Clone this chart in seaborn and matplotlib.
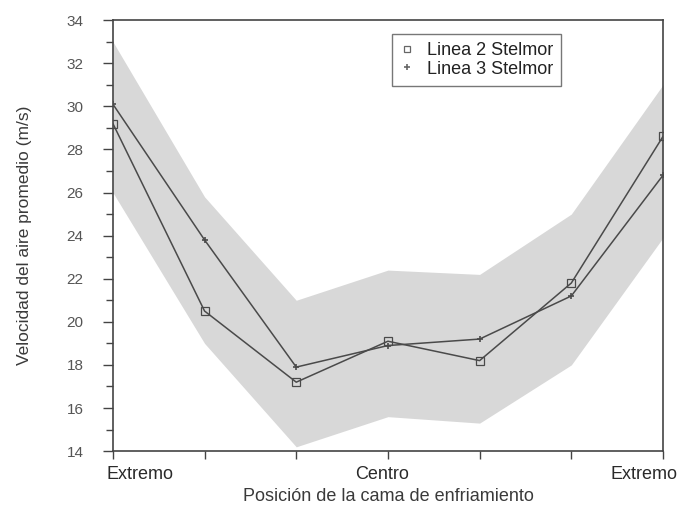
import matplotlib
matplotlib.use("Agg")
import matplotlib.pyplot as plt
from matplotlib.lines import Line2D
from matplotlib.transforms import ScaledTranslation
from matplotlib.ticker import MultipleLocator, FixedLocator, FixedFormatter
import seaborn as sns
import pandas as pd

# Positions across the cooling bed (0 = one edge, 3 = centre, 6 = other edge)
posiciones = [0, 1, 2, 3, 4, 5, 6]
etiquetas_x = ["Extremo", "", "", "Centro", "", "", "Extremo"]

# Mean air velocity (m/s) per line
linea_2 = [29.2, 20.5, 17.2, 19.1, 18.2, 21.8, 28.6]
linea_3 = [30.1, 23.8, 17.9, 18.9, 19.2, 21.2, 26.8]

# Spread band (upper / lower limits, m/s)
banda_sup = [33.0, 25.8, 21.0, 22.4, 22.2, 25.0, 31.0]
banda_inf = [26.0, 19.0, 14.2, 15.6, 15.3, 18.0, 23.9]

sns.set_theme(style="white")
plt.rcParams["font.family"] = ["Liberation Sans", "DejaVu Sans"]

df = pd.DataFrame({
    "pos": posiciones * 2,
    "vel": linea_2 + linea_3,
    "serie": ["Linea 2 Stelmor"] * 7 + ["Linea 3 Stelmor"] * 7,
})

fig = plt.figure(figsize=(6.8, 5.15), dpi=100)
ax = fig.add_axes([0.166, 0.124, 0.809, 0.837])

ax.fill_between(posiciones, banda_inf, banda_sup, color="#d8d8d8",
                linewidth=0, zorder=1)

line_color = "#4a4a4a"
sns.lineplot(data=df[df.serie == "Linea 2 Stelmor"], x="pos", y="vel",
             ax=ax, color=line_color, linewidth=1.1, marker="s",
             markersize=6, markerfacecolor="none", markeredgecolor=line_color,
             markeredgewidth=0.9, zorder=3, legend=False)
sns.lineplot(data=df[df.serie == "Linea 3 Stelmor"], x="pos", y="vel",
             ax=ax, color=line_color, linewidth=1.1, marker="+",
             markersize=5, markeredgecolor=line_color, markeredgewidth=1.2,
             zorder=3, legend=False)

ax.set_xlim(0, 6)
ax.set_ylim(14, 34)
ax.yaxis.set_major_locator(MultipleLocator(2))
ax.yaxis.set_minor_locator(MultipleLocator(1))
ax.xaxis.set_major_locator(FixedLocator(posiciones))
ax.xaxis.set_major_formatter(FixedFormatter(etiquetas_x))

text_color = "#3a3a3a"
ax.tick_params(axis="y", which="major", direction="out", length=7,
               width=1, color="#444444", labelsize=11, labelcolor="#555555",
               left=True, pad=14)
ax.tick_params(axis="y", which="minor", direction="out", length=5,
               width=1, color="#444444", left=True)
ax.tick_params(axis="x", which="major", direction="out", length=6,
               width=1, color="#444444", labelsize=13, labelcolor="#2a2a2a",
               bottom=True, pad=5)

# Edge labels sit flush with the ends of the axis
fig.canvas.draw()
xlabels = ax.get_xticklabels()
ajustes = {0: ("left", -6), 3: ("center", -6), 6: ("right", 14)}
for i, (ha, dx) in ajustes.items():
    lab = xlabels[i]
    lab.set_ha(ha)
    lab.set_transform(lab.get_transform()
                      + ScaledTranslation(dx / 100, 0, fig.dpi_scale_trans))

for sp in ax.spines.values():
    sp.set_color("#444444")
    sp.set_linewidth(1.2)

ax.set_xlabel("Posición de la cama de enfriamiento", fontsize=13,
              color=text_color, labelpad=3)
ax.set_ylabel("Velocidad del aire promedio (m/s)", fontsize=12.5,
              color=text_color, labelpad=25)

handles = [
    Line2D([], [], linestyle="none", marker="s", markersize=5,
           markerfacecolor="none", markeredgecolor="#666666",
           markeredgewidth=0.9),
    Line2D([], [], linestyle="none", marker="+", markersize=4,
           markeredgecolor="#666666", markeredgewidth=1.2),
]
leg = ax.legend(handles, ["Linea 2 Stelmor", "Linea 3 Stelmor"],
                loc="upper left", bbox_to_anchor=(0.507, 0.968),
                fontsize=13, frameon=True, fancybox=False,
                handlelength=0.8, handletextpad=0.7, borderpad=0.45,
                labelspacing=0.1, borderaxespad=0)
leg.get_frame().set_edgecolor("#555555")
leg.get_frame().set_linewidth(1.0)
for t in leg.get_texts():
    t.set_color("#222222")

fig.savefig("out.png", dpi=100)
